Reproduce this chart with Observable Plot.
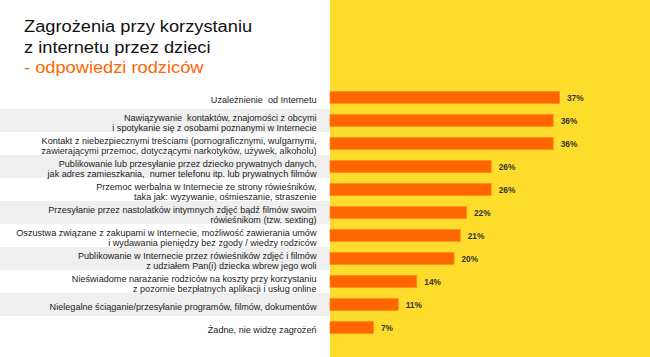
<!DOCTYPE html>
<html>
<head>
<meta charset="utf-8">
<script src="https://cdn.jsdelivr.net/npm/d3@7"></script>
<script src="https://cdn.jsdelivr.net/npm/@observablehq/plot@0.6"></script>
<style>
  html, body { margin: 0; padding: 0; background: #fff; }
  #wrap { position: relative; width: 650px; height: 357px; overflow: hidden; font-family: "Liberation Sans", Arial, sans-serif; }
  #title { position: absolute; left: 24px; top: 17px; font-size: 16px; line-height: 20.5px; color: #111; transform: scaleX(1.14); transform-origin: left top; white-space: nowrap; }
  #title .sub { color: #FF6600; }
  #chart { position: absolute; left: 0; top: 0; }
</style>
</head>
<body>
<div id="wrap">
  <div id="chart"></div>
  <div id="title">Zagrożenia przy korzystaniu<br>z internetu przez dzieci<br><span class="sub">- odpowiedzi rodziców</span></div>
</div>
<script>
const categories = [
  "Uzależnienie  od Internetu",
  "Nawiązywanie  kontaktów, znajomości z obcymi\ni spotykanie się z osobami poznanymi w Internecie",
  "Kontakt z niebezpiecznymi treściami (pornograficznymi, wulgarnymi,\nzawierającymi przemoc, dotyczącymi narkotyków, używek, alkoholu)",
  "Publikowanie lub przesyłanie przez dziecko prywatnych danych,\njak adres zamieszkania,  numer telefonu itp. lub prywatnych filmów",
  "Przemoc werbalna w Internecie ze strony rówieśników,\ntaka jak: wyzywanie, ośmieszanie, straszenie",
  "Przesyłanie przez nastolatków intymnych zdjęć bądź filmów swoim\nrówieśnikom (tzw. sexting)",
  "Oszustwa związane z zakupami w Internecie, możliwość zawierania umów\ni wydawania pieniędzy bez zgody / wiedzy rodziców",
  "Publikowanie w Internecie przez rówieśników zdjęć i filmów\nz udziałem Pan(i) dziecka wbrew jego woli",
  "Nieświadome narażanie rodziców na koszty przy korzystaniu\nz pozornie bezpłatnych aplikacji i usług online",
  "Nielegalne ściąganie/przesyłanie programów, filmów, dokumentów",
  "Żadne, nie widzę zagrożeń"
];
const values = [37, 36, 36, 26, 26, 22, 21, 20, 14, 11, 7];

const data = categories.map((c, i) => ({label: c, value: values[i], idx: i}));

const YELLOW = "#FDDC2C";
const ORANGE = "#FF6600";

function background(index, scales, vals, dims) {
  const g = d3.create("svg:g");
  const step = scales.y(categories[1]) - scales.y(categories[0]);
  categories.forEach((c, i) => {
    if (i % 2 === 1) {
      g.append("rect")
        .attr("x", 0).attr("width", dims.marginLeft)
        .attr("y", scales.y(c)).attr("height", step)
        .attr("fill", "#EFEFEF");
    }
  });
  g.append("rect")
    .attr("x", dims.marginLeft).attr("width", dims.width - dims.marginLeft)
    .attr("y", 0).attr("height", dims.height)
    .attr("fill", YELLOW);
  return g.node();
}

const chart = Plot.plot({
  width: 650,
  height: 357,
  marginLeft: 330,
  marginRight: 10,
  marginTop: 81.4,
  marginBottom: 12.7,
  style: {fontFamily: "'Liberation Sans', Arial, sans-serif", background: "transparent"},
  x: {domain: [0, 50], axis: null},
  y: {domain: categories, padding: 0, axis: null},
  marks: [
    background,
    Plot.barX(data, {
      y: "label", x: "value",
      fill: ORANGE, stroke: "#FF8A1A", strokeWidth: 0.8,
      insetTop: 5.6, insetBottom: 5.6
    }),
    Plot.text(data, {
      y: "label", x: "value",
      text: d => d.value + "%",
      dx: 7, textAnchor: "start",
      fontWeight: "bold", fontSize: 8.3, fill: "#333"
    }),
    Plot.text(data, {
      y: "label", text: "label",
      frameAnchor: "left", textAnchor: "end", dx: -14, dy: 1.5,
      fontSize: 9.1, lineHeight: 1.1, fill: "#222"
    })
  ]
});
document.getElementById("chart").appendChild(chart);
</script>
</body>
</html>
